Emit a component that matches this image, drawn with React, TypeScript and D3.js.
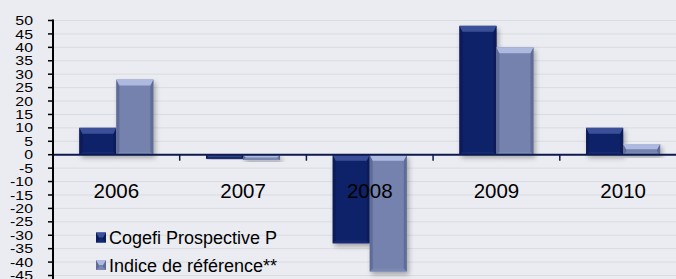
import React from 'react';
import * as d3 from 'd3';

const years = ['2006', '2007', '2008', '2009', '2010'];
const fundValues = [10, -1.5, -33, 48, 10];
const indexValues = [28, -2, -43.5, 40, 4];
const seriesNames = ['Cogefi Prospective P', 'Indice de référence**'];
const yTicks = d3.range(50, -50, -5);

const W = 676;
const H = 279;
const BG = '#ebecf1';

const seriesColors = [
  { base: '#0f2368', top: '#3a5099', side: '#0b1c58', bottom: '#142a70' },
  { base: '#7482ad', top: '#aeb9df', side: '#606c98', bottom: '#7a88b3' },
];

function BevelBar({ x, y, w, h, c }: any) {
  const bt = Math.min(6, w / 2, h / 2);
  const bs = Math.min(3, w / 2, h / 2);
  const x1 = x + w;
  const y1 = y + h;
  return (
    <g>
      <rect x={x} y={y} width={w} height={h} fill={c.base} />
      <polygon points={`${x},${y1} ${x + bs},${y1 - bs} ${x1 - bs},${y1 - bs} ${x1},${y1}`} fill={c.bottom} />
      <polygon points={`${x},${y} ${x + bs},${y + bt} ${x + bs},${y1 - bs} ${x},${y1}`} fill={c.side} />
      <polygon points={`${x1},${y} ${x1},${y1} ${x1 - bs},${y1 - bs} ${x1 - bs},${y + bt}`} fill={c.side} />
      <polygon points={`${x},${y} ${x1},${y} ${x1 - bs},${y + bt} ${x + bs},${y + bt}`} fill={c.top} />
    </g>
  );
}

export default function App() {
  const left = 53;
  const right = 686.5;
  const y = d3.scaleLinear().domain([-45, 50]).range([275.5, 20.5]);
  const x = d3.scaleBand().domain(years).range([left, right]).paddingInner(0).paddingOuter(0);
  const groupW = 74;
  const xs = d3.scaleBand().domain(['0', '1']).range([0, groupW]);
  const y0 = y(0);
  const allValues = [fundValues, indexValues];

  return (
    <svg width={W} height={H} style={{ position: 'absolute', left: 0, top: 0, fontFamily: 'Liberation Sans, Arial, sans-serif' }}>
      <defs>
        <filter id="sh" x="-20%" y="-20%" width="150%" height="150%">
          <feGaussianBlur in="SourceAlpha" stdDeviation="2.5" />
          <feOffset dx="2" dy="3" result="b" />
          <feComponentTransfer><feFuncA type="linear" slope="0.3" /></feComponentTransfer>
          <feMerge><feMergeNode /><feMergeNode in="SourceGraphic" /></feMerge>
        </filter>
      </defs>
      <rect width={W} height={H} fill={BG} />
      {yTicks.map(t => (
        <line key={'g' + t} x1={left} x2={W} y1={y(t)} y2={y(t)} stroke="#dadbe1" strokeWidth={1} />
      ))}
      {years.map((yr, i) => {
        const gx = (x(yr) as number) + x.bandwidth() / 2 - groupW / 2;
        return allValues.map((vals, s) => {
          const v = vals[i];
          const top = y(Math.max(0, v));
          const bot = y(Math.min(0, v));
          return (
            <g key={yr + s} filter="url(#sh)">
              <BevelBar x={gx + (xs(String(s)) as number)} y={top} w={xs.bandwidth()} h={bot - top} c={seriesColors[s]} />
            </g>
          );
        });
      })}
      <line x1={left} x2={W} y1={y0} y2={y0} stroke="#0c1a4f" strokeWidth={2} />
      {years.slice(1).map(yr => (
        <line key={'t' + yr} x1={x(yr)} x2={x(yr)} y1={y0} y2={y0 + 6} stroke="#0c1a4f" strokeWidth={1.5} />
      ))}
      <line x1={left} x2={left} y1={y(50) - 1} y2={H} stroke="#000" strokeWidth={2} />
      {yTicks.map(t => (
        <g key={'yt' + t}>
          <line x1={left - 5} x2={left} y1={y(t)} y2={y(t)} stroke="#000" strokeWidth={1.5} />
          <text transform={`translate(33,${y(t) + 4.6}) scale(1.22,1)`} textAnchor="end" fontSize={13} fill="#000">{t}</text>
        </g>
      ))}
      {years.map(yr => (
        <text key={'l' + yr} x={(x(yr) as number) + x.bandwidth() / 2} y={198} textAnchor="middle" fontSize={20.5} fill="#000">{yr}</text>
      ))}
      {seriesNames.map((n, s) => (
        <g key={n} transform={`translate(96,${232.5 + s * 27.5})`}>
          <BevelBar x={0} y={0} w={10} h={10} c={seriesColors[s]} />
          <text x={13} y={11.5} fontSize={18} fill="#000">{n}</text>
        </g>
      ))}
    </svg>
  );
}
